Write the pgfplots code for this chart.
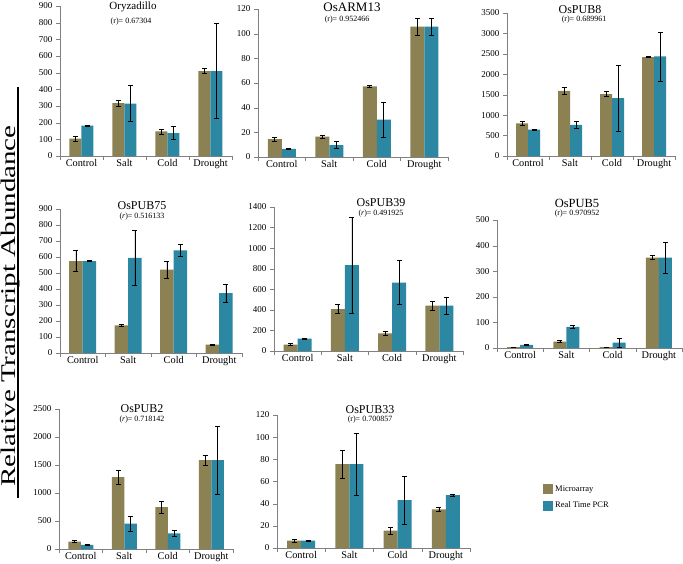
\documentclass[border=0pt]{standalone}
\usepackage{fontspec}
\setmainfont{Liberation Serif}
\usepackage{pgfplots}
\pgfplotsset{compat=1.18}

\definecolor{micro}{HTML}{8C8152}
\definecolor{rtpcr}{HTML}{2B87A2}

\pgfplotsset{
  panel/.style={
    scale only axis, anchor=south west, clip=false,
    ybar=0pt,
    xmin=-0.5, xmax=3.5, ymin=0,
    axis lines=left,
    axis line style={-, draw=gray},
    tick align=outside,
    tick style={gray},
    major tick length=4pt, minor tick length=4pt,
    xtick={0,1,2,3},
    xticklabels={Control,Salt,Cold,Drought},
    minor xtick={-0.5,0.5,1.5,2.5,3.5},
    major x tick style={draw=none},
    xticklabel style={font=\rmfamily\fontsize{10.3}{10}\selectfont, yshift=4pt},
    yticklabel style={font=\rmfamily\fontsize{9}{9}\selectfont},
    scaled y ticks=false,
    /pgf/number format/1000 sep={},
    /pgf/number format/assume math mode=true,
    error bars/y dir=both,
    error bars/y explicit,
    error bars/error bar style={black, line width=0.6pt},
    error bars/error mark options={rotate=90, black, mark size=2.5pt, line width=0.6pt},
  },
  mic/.style={fill=micro, draw=none},
  rtp/.style={fill=rtpcr, draw=none},
}

\newcommand{\ttl}[4]{%
  \node[font=\fontsize{#3}{#3}\selectfont] at (#1pt,-#2pt) {#4};}

\begin{document}
\begin{tikzpicture}
\useasboundingbox (0,0) rectangle (683pt,-563pt);

% Oryzadillo
\begin{axis}[panel, at={(60pt,-156pt)}, width=172pt, height=150pt,
  ymax=900, ytick={0,100,...,900}, bar width=12pt]
\addplot[mic] coordinates {(0,105) +- (0,15) (1,318) +- (0,18) (2,148) +- (0,15) (3,510) +- (0,15)};
\addplot[rtp] coordinates {(0,182) +- (0,2) (1,314) +- (0,108) (2,138) +- (0,40) (3,510) +- (0,285)};
\end{axis}

% OsARM13
\begin{axis}[panel, at={(258pt,-157pt)}, width=190pt, height=148pt,
  ymax=120, ytick={0,20,...,120}, bar width=14pt]
\addplot[mic] coordinates {(0,14.5) +- (0,1.5) (1,16.5) +- (0,1) (2,57.3) +- (0,0.5) (3,105.7) +- (0,7)};
\addplot[rtp] coordinates {(0,6.5) +- (0,0.3) (1,9.7) +- (0,3) (2,30.3) +- (0,14) (3,105.7) +- (0,7)};
\end{axis}

% OsPUB8
\begin{axis}[panel, at={(507pt,-156pt)}, width=168pt, height=143pt,
  ymax=3500, ytick={0,500,...,3500}, bar width=12pt]
\addplot[mic] coordinates {(0,801) +- (0,45) (1,1594) +- (0,80) (2,1513) +- (0,60) (3,2420) +- (0,10)};
\addplot[rtp] coordinates {(0,646) +- (0,5) (1,760) +- (0,80) (2,1415) +- (0,810) (3,2437) +- (0,600)};
\end{axis}

% OsPUB75
\begin{axis}[panel, at={(60pt,-353pt)}, width=182pt, height=144pt,
  ymax=900, ytick={0,100,...,900}, bar width=13.5pt]
\addplot[mic] coordinates {(0,575) +- (0,65) (1,173) +- (0,4) (2,521) +- (0,55) (3,52) +- (0,3)};
\addplot[rtp] coordinates {(0,575) +- (0,3) (1,594) +- (0,172) (2,642) +- (0,38) (3,375) +- (0,55)};
\end{axis}

% OsPUB39
\begin{axis}[panel, at={(274pt,-351pt)}, width=189pt, height=144pt,
  ymax=1400, ytick={0,200,...,1400}, bar width=14pt]
\addplot[mic] coordinates {(0,61) +- (0,10) (1,407) +- (0,45) (2,171) +- (0,20) (3,440) +- (0,40)};
\addplot[rtp] coordinates {(0,120) +- (0,3) (1,834) +- (0,463) (2,666) +- (0,213) (3,440) +- (0,87)};
\end{axis}

% OsPUB5
\begin{axis}[panel, at={(497pt,-348pt)}, width=185pt, height=128pt,
  ymax=500, ytick={0,100,...,500}, bar width=13pt]
\addplot[mic] coordinates {(0,3) +- (0,1) (1,25) +- (0,4) (2,3) +- (0,1) (3,353) +- (0,8)};
\addplot[rtp] coordinates {(0,12) +- (0,2) (1,83) +- (0,7) (2,21) +- (0,17) (3,353) +- (0,60)};
\end{axis}

% OsPUB2
\begin{axis}[panel, at={(59pt,-549pt)}, width=174pt, height=140pt,
  ymax=2500, ytick={0,500,...,2500}, bar width=12.5pt]
\addplot[mic] coordinates {(0,131) +- (0,20) (1,1283) +- (0,125) (2,746) +- (0,110) (3,1587) +- (0,90)};
\addplot[rtp] coordinates {(0,72) +- (0,5) (1,453) +- (0,130) (2,280) +- (0,55) (3,1587) +- (0,610)};
\end{axis}

% OsPUB33 (carries the legend)
\begin{axis}[panel, at={(277pt,-548pt)}, width=193pt, height=133pt,
  ymax=120, ytick={0,20,...,120}, bar width=14pt,
  legend style={at={(rel axis cs:1.3627,0.50)}, anchor=north west,
    draw=none, fill=none, font=\fontsize{8.5}{8.5}\selectfont,
    row sep=5pt, cells={anchor=west}},
  legend image code/.code={\draw[#1, draw=none] (0pt,-5pt) rectangle (10pt,5pt);}]
\addplot[mic] coordinates {(0,6.6) +- (0,1) (1,75.6) +- (0,12.6) (2,15.6) +- (0,3) (3,34.8) +- (0,2)};
\addlegendentry{Microarray}
\addplot[rtp] coordinates {(0,6.6) +- (0,0.3) (1,75.6) +- (0,28) (2,43.2) +- (0,21.6) (3,47.7) +- (0,0.6)};
\addlegendentry{Real Time PCR}
\end{axis}

% panel titles and correlations
\ttl{133}{7}{11}{Oryzadillo}
\ttl{131}{22}{8}{(r)= 0.67304}
\ttl{352}{7}{13}{OsARM13}
\ttl{347}{19.5}{8}{(r)= 0.952466}
\ttl{580}{10}{12}{OsPUB8}
\ttl{584}{19.5}{8}{(r)= 0.689961}
\ttl{142}{206}{12}{OsPUB75}
\ttl{142}{217}{8}{(\textit{r})= 0.516133}
\ttl{381}{203}{12}{OsPUB39}
\ttl{381}{214}{8}{(\textit{r})= 0.491925}
\ttl{577}{203}{12.5}{OsPUB5}
\ttl{577}{214}{8}{(r)= 0.970952}
\ttl{142}{409}{12}{OsPUB2}
\ttl{142}{419.5}{8}{(\textit{r})= 0.718142}
\ttl{370}{410}{12}{OsPUB33}
\ttl{370}{420}{8}{(r)= 0.700857}

% common y label
\draw[line width=1.6pt] (18pt,-87pt) -- (18pt,-498pt);
\node[rotate=90, anchor=base] at (16pt,-306pt)
  {\scalebox{1}[0.72]{\fontsize{29}{29}\selectfont Relative Transcript Abundance}};
\end{tikzpicture}
\end{document}
